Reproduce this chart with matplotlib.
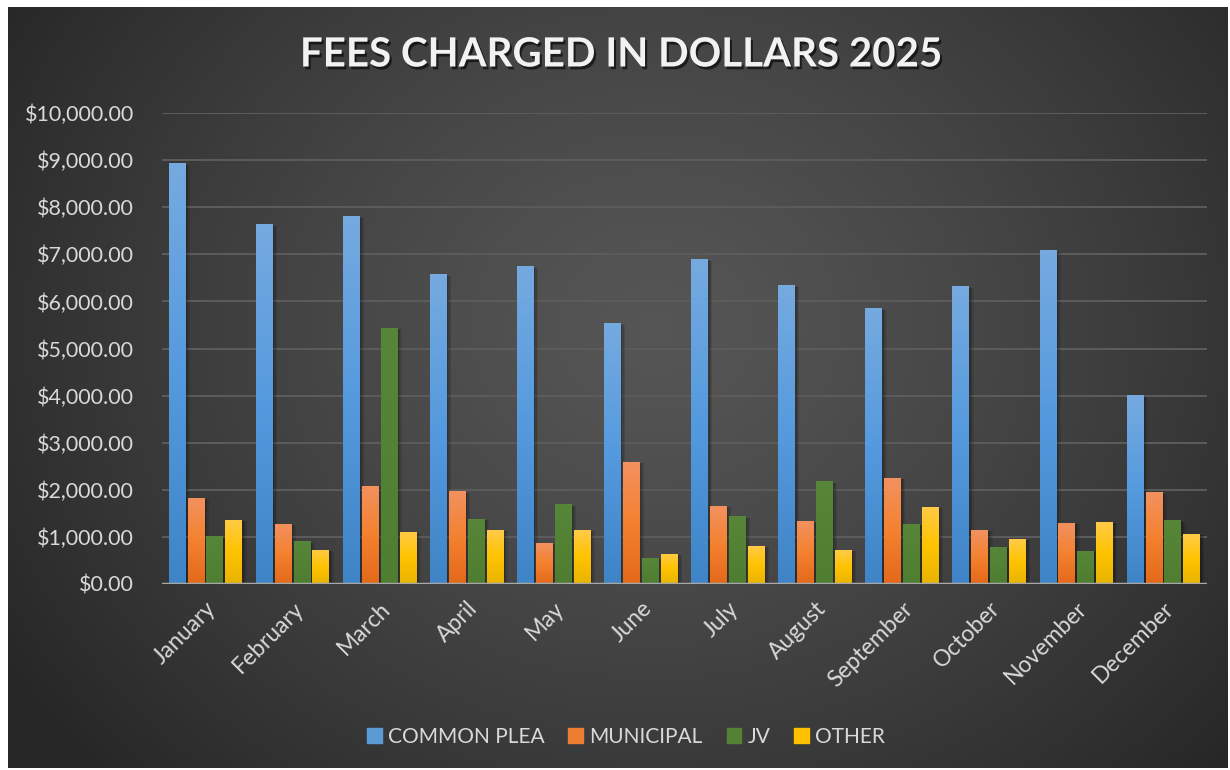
import numpy as np
import matplotlib
matplotlib.use("Agg")
import matplotlib.pyplot as plt
import matplotlib.patheffects as pe
from matplotlib.colors import LinearSegmentedColormap
from matplotlib.ticker import FuncFormatter

months = ["January", "February", "March", "April", "May", "June", "July",
          "August", "September", "October", "November", "December"]
common_plea = [8935, 7640, 7810, 6575, 6745, 5535, 6895, 6340, 5855, 6320, 7085, 4010]
municipal = [1830, 1280, 2085, 1970, 870, 2590, 1655, 1335, 2250, 1145, 1295, 1950]
jv = [1025, 905, 5435, 1380, 1695, 550, 1440, 2180, 1275, 785, 705, 1355]
other = [1365, 730, 1110, 1145, 1145, 640, 805, 720, 1635, 955, 1315, 1060]
series_names = ["COMMON PLEA", "MUNICIPAL", "JV", "OTHER"]
yticks = list(range(0, 10001, 1000))

plt.rcParams["font.family"] = ["Lato", "DejaVu Sans"]

W, H = 1230, 770
fig = plt.figure(figsize=(W / 100, H / 100), dpi=100, facecolor="white")

# background with radial gradient
bg = fig.add_axes([8 / W, 2 / H, 1220 / W, 761 / H])
ny, nx = 400, 640
yy, xx = np.mgrid[0:ny, 0:nx]
cx, cy = nx * 0.53, ny * 0.42
d = np.sqrt(((xx - cx) / (nx * 0.62)) ** 2 + ((yy - cy) / (ny * 0.85)) ** 2)
d = np.clip(d, 0, 1)
lum = 0.335 - (0.335 - 0.155) * d ** 1.3
img = np.dstack([lum, lum, lum])
bg.imshow(img, extent=[0, 1, 0, 1], aspect="auto", interpolation="bilinear")
bg.set_xlim(0, 1)
bg.set_ylim(0, 1)
bg.axis("off")

ax = fig.add_axes([162 / W, (H - 584) / H, (1207 - 162) / W, (584 - 113) / H])
ax.set_facecolor("none")

grads = [
    ["#3f84c7", "#559ade", "#75aae0"],
    ["#e3691a", "#f4812f", "#f2915f"],
    ["#4f7e31", "#548235", "#578638"],
    ["#e8b400", "#ffc300", "#ffcb47"],
]
solid = ["#5b9bd5", "#ed7d31", "#548235", "#ffc000"]
data = [common_plea, municipal, jv, other]

x = np.arange(len(months))
bw = 0.195
step = 0.217
shadow = [pe.SimplePatchShadow(offset=(3, -1), shadow_rgbFace="black", alpha=0.10),
          pe.SimplePatchShadow(offset=(2, -1), shadow_rgbFace="black", alpha=0.12),
          pe.SimplePatchShadow(offset=(1, -0.5), shadow_rgbFace="black", alpha=0.15),
          pe.Normal()]
for i, (vals, g) in enumerate(zip(data, grads)):
    cmap = LinearSegmentedColormap.from_list("g%d" % i, g)
    bars = ax.bar(x + (i - 1.5) * step, vals, width=bw, color=solid[i],
                  zorder=3, linewidth=0, path_effects=shadow)
    gradimg = np.linspace(0, 1, 64).reshape(-1, 1)
    for b in bars:
        x0 = b.get_x()
        h = b.get_height()
        im = ax.imshow(gradimg, extent=[x0, x0 + bw, 0, h], origin="lower",
                       aspect="auto", cmap=cmap, zorder=3.5, interpolation="bilinear")
        im.set_clip_path(b)

ax.set_xlim(-0.5, len(months) - 0.5)
ax.set_ylim(0, 10000)
ax.set_yticks(yticks)
ax.yaxis.set_major_formatter(FuncFormatter(lambda v, p: "${:,.2f}".format(v)))
ax.yaxis.grid(True, color="#5c5c5c", linewidth=1.4)
ax.set_axisbelow(True)
ax.axhline(0, color="#a8a8a8", linewidth=2.5, zorder=6)
for s in ax.spines.values():
    s.set_visible(False)
ax.tick_params(axis="both", length=0, labelcolor="#d9d9d9", labelsize=15.5)
ax.tick_params(axis="y", pad=20)
ax.tick_params(axis="x", pad=10, labelsize=16.5)
ax.set_xticks(x)
ax.set_xticklabels(months, rotation=45, ha="right", va="top", rotation_mode="anchor")

# legend
handles = [plt.Rectangle((0, 0), 1, 1, color=c) for c in solid]
leg = fig.legend(handles, series_names, loc="center", bbox_to_anchor=(626 / W, (H - 737) / H),
                 ncol=4, frameon=False, fontsize=15, handlelength=0.7, handleheight=0.7,
                 handletextpad=0.3, columnspacing=1.15, labelcolor="#d9d9d9")

fig.text(621 / W, (H - 55) / H, "FEES CHARGED IN DOLLARS 2025", ha="center", va="center",
         fontsize=29, fontweight="bold", color="#f2f2f2",
         path_effects=[pe.withSimplePatchShadow(offset=(1.5, -2), shadow_rgbFace="black", alpha=0.6)])

fig.savefig("out.png", dpi=100, facecolor="white")
